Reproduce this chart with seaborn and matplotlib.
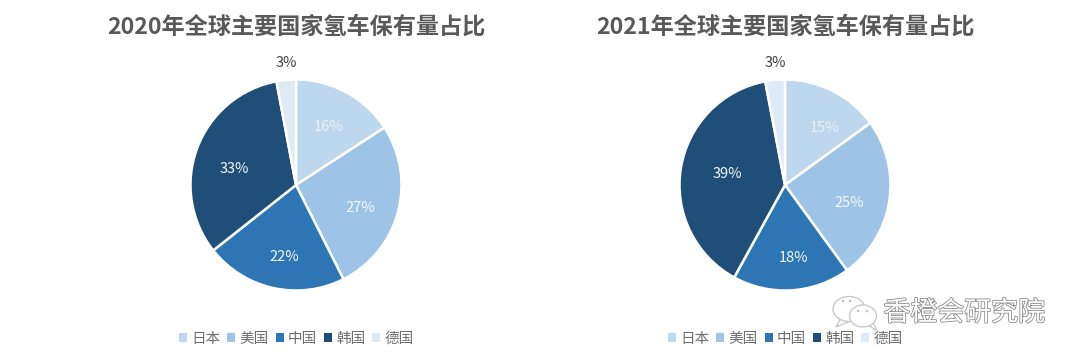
import numpy as np
import matplotlib
matplotlib.use("Agg")
import matplotlib.pyplot as plt
import matplotlib.patheffects as pe
from matplotlib.patches import Patch, Ellipse, Polygon
import seaborn as sns

sns.set_theme(style="white")
plt.rcParams['font.family'] = ['Noto Sans CJK SC', 'DejaVu Sans']

categories = ['日本', '美国', '中国', '韩国', '德国']
share_2020 = [16, 27, 22, 33, 3]
share_2021 = [15, 25, 18, 39, 3]
titles = ['2020年全球主要国家氢车保有量占比', '2021年全球主要国家氢车保有量占比']
colors = ['#BDD7EE', '#9DC3E6', '#2E75B6', '#1F4E79', '#DEEBF7']
label_colors = ['#E8F0F8', '#F2F7FB', '#F2F7FB', '#F2F7FB', '#404040']

W, H = 1080, 361
fig = plt.figure(figsize=(W / 100, H / 100), dpi=100)

centres = [296, 785]
cy, r = 185, 105.5
dist = [0.65, 0.63, 0.68, 0.60, 1.17]
# nudges for the percent labels, in pixels (right, down)
nudges = [[(0, 2), (0, 6), (4, 2), (-2, 6), (2, 1)],
          [(8, 4), (-1, 8), (4, 1), (5, -1), (2, 1)]]

for vals, title, cx, nudge in zip([share_2020, share_2021], titles, centres, nudges):
    ax = fig.add_axes([(cx - r) / W, 1 - (cy + r) / H, 2 * r / W, 2 * r / H])
    wedges, _ = ax.pie(vals, colors=colors, startangle=90, counterclock=False, radius=1,
                       wedgeprops=dict(edgecolor='white', linewidth=1.8))
    ax.set_xlim(-1, 1)
    ax.set_ylim(-1, 1)
    ax.set_aspect('equal')
    for i, w in enumerate(wedges):
        ang = np.deg2rad((w.theta1 + w.theta2) / 2)
        ax.annotate(f'{vals[i]}%', (dist[i] * np.cos(ang), dist[i] * np.sin(ang)),
                    xytext=(nudge[i][0] * 0.72, -nudge[i][1] * 0.72), textcoords='offset points',
                    ha='center', va='center', fontsize=10.5, color=label_colors[i], annotation_clip=False)
    fig.text(cx / W, 1 - 27 / H, title, ha='center', va='center', fontsize=16.7,
             fontweight='bold', color='#595959')
    handles = [Patch(facecolor=c, edgecolor='none') for c in colors]
    fig.legend(handles, categories, loc='center', bbox_to_anchor=((cx + 0.5) / W, 1 - 339 / H), ncol=5,
               frameon=False, fontsize=10.5, labelcolor='#6E6E6E', handlelength=0.55, handleheight=0.55,
               handletextpad=0.3, columnspacing=0.45, borderpad=0)

# watermark
overlay = fig.add_axes([0, 0, 1, 1], facecolor='none')
overlay.set_xlim(0, W)
overlay.set_ylim(H, 0)
overlay.axis('off')
edge = '#C8C8C8'
overlay.add_patch(Polygon([(841, 318), (836, 327), (848, 322)], facecolor='white', edgecolor=edge, linewidth=1))
overlay.add_patch(Ellipse((849, 309), 32, 25, facecolor='white', edgecolor=edge, linewidth=1))
overlay.add_patch(Polygon([(868, 325), (877, 331), (873, 322)], facecolor='white', edgecolor=edge, linewidth=1))
overlay.add_patch(Ellipse((863, 316), 27, 22, facecolor='white', edgecolor=edge, linewidth=1))
for ex, ey in [(843, 301), (850, 301), (858, 311), (867, 311)]:
    overlay.add_patch(Ellipse((ex, ey), 2.5, 2.5, facecolor='#C0C0C0', edgecolor='none'))
overlay.text(964, 313, '香橙会研究院', ha='center', va='center', fontsize=19.4, color='white',
             path_effects=[pe.withStroke(linewidth=1.2, foreground='#8C8C8C')])

fig.savefig('out.png', dpi=100)
